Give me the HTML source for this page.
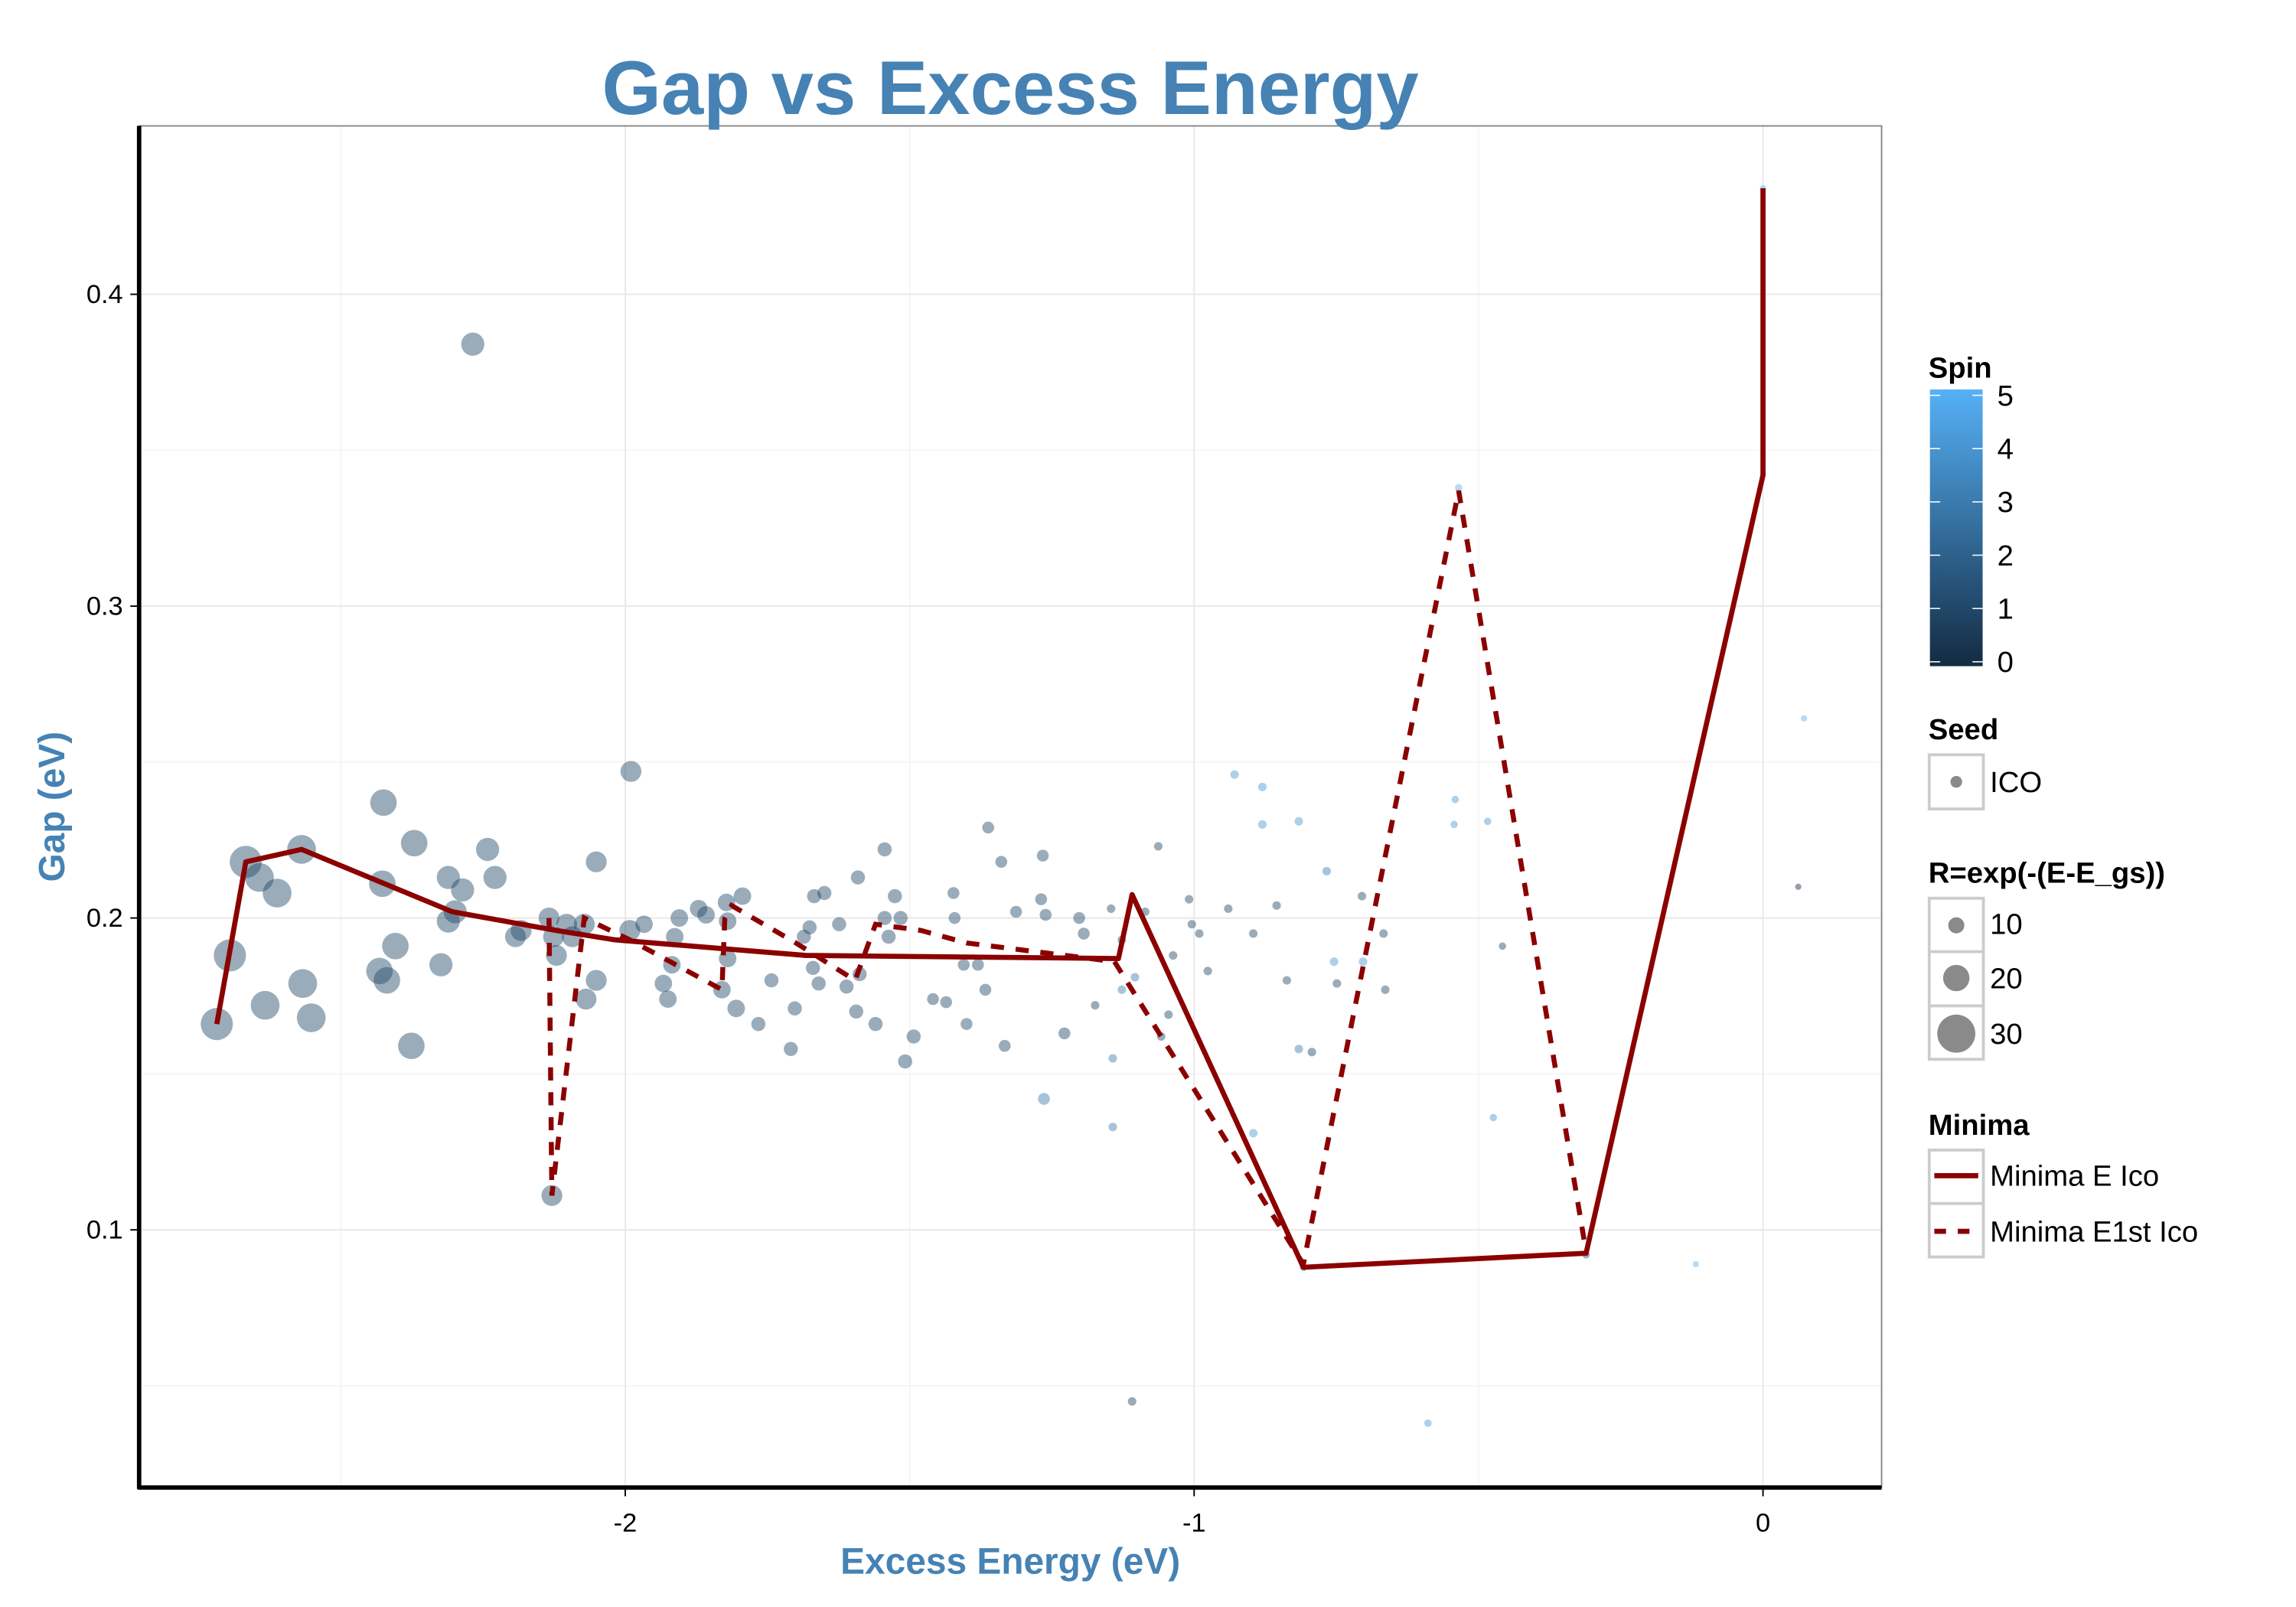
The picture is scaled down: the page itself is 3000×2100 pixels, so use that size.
<!DOCTYPE html>
<html><head><meta charset="utf-8"><style>
html,body{margin:0;padding:0;background:#fff}
svg{display:block}
text{font-family:"Liberation Sans",Arial,sans-serif}
</style></head><body>
<svg id="chart" width="3000" height="2100" viewBox="0 0 1568 1097.6" preserveAspectRatio="none" xmlns="http://www.w3.org/2000/svg">
<rect x="0" y="0" width="1568" height="1098" fill="#fff"/>
<g id="grid"></g>
<g id="marks"></g>
<rect x="95" y="86" width="1190" height="930" fill="none" stroke="#888" stroke-width="1"/>
<line x1="95" y1="86" x2="95" y2="1017" stroke="#000" stroke-width="3"/>
<line x1="94" y1="1016" x2="1285" y2="1016" stroke="#000" stroke-width="3"/>
<g id="ticks"></g>
<text x="690" y="78" text-anchor="middle" font-size="52" font-weight="bold" fill="#4682B4">Gap vs Excess Energy</text>
<text x="690" y="1075" text-anchor="middle" font-size="25" font-weight="bold" fill="#4682B4">Excess Energy (eV)</text>
<text transform="translate(44,551) rotate(-90)" text-anchor="middle" font-size="25" font-weight="bold" fill="#4682B4">Gap (eV)</text>
<defs><linearGradient id="spinGrad" x1="0" y1="1" x2="0" y2="0"><stop offset="0" stop-color="#132B43"/><stop offset="1" stop-color="#56B1F7"/></linearGradient></defs>
<g font-size="20">
<text x="1317" y="258" font-weight="bold">Spin</text>
<rect x="1318" y="266" width="36" height="189" fill="url(#spinGrad)"/>
<g id="cbticks"></g>
<text x="1317" y="505" font-weight="bold">Seed</text>
<rect x="1317.5" y="515.5" width="37" height="37" fill="#fff" stroke="#ccc" stroke-width="2"/>
<circle cx="1336" cy="534" r="4" fill="#8a8a8a"/>
<text x="1359" y="541">ICO</text>
<text x="1317" y="603" font-weight="bold">R=exp(-(E-E_gs))</text>
<rect x="1317.5" y="613.5" width="37" height="110" fill="#fff" stroke="#ccc" stroke-width="2"/>
<line x1="1318" y1="650" x2="1354" y2="650" stroke="#ccc" stroke-width="2"/>
<line x1="1318" y1="687" x2="1354" y2="687" stroke="#ccc" stroke-width="2"/>
<circle cx="1336" cy="632" r="5.5" fill="#8a8a8a"/>
<circle cx="1336" cy="668" r="9" fill="#8a8a8a"/>
<circle cx="1336" cy="706" r="13" fill="#8a8a8a"/>
<text x="1359" y="638">10</text><text x="1359" y="675">20</text><text x="1359" y="713">30</text>
<text x="1317" y="775" font-weight="bold">Minima</text>
<rect x="1317.5" y="785.5" width="37" height="73" fill="#fff" stroke="#ccc" stroke-width="2"/>
<line x1="1318" y1="822" x2="1354" y2="822" stroke="#ccc" stroke-width="2"/>
<line x1="1321" y1="803" x2="1351" y2="803" stroke="#8B0000" stroke-width="3.5"/>
<line x1="1321" y1="841" x2="1351" y2="841" stroke="#8B0000" stroke-width="3.5" stroke-dasharray="8,8"/>
<text x="1359" y="810">Minima E Ico</text>
<text x="1359" y="848">Minima E1st Ico</text>
</g>
</svg>
<script>
const ns="http://www.w3.org/2000/svg";
const xTicks=[-2,-1,0];
const yTicks=[0.1,0.2,0.3,0.4];
const xMinor=[-2.5,-1.5,-0.5];
const yMinor=[0.05,0.15,0.25,0.35];
const spinTicks=[0,1,2,3,4,5];
const ptE=[-2.718,-2.695,-2.667,-2.643,-2.633,-2.612,-2.569,-2.567,-2.552,-2.425,-2.427,-2.432,-2.419,-2.404,-2.371,-2.376,-2.324,-2.311,-2.311,-2.299,-2.286,-2.268,-2.242,-2.229,-2.193,-2.183,-2.134,-2.129,-2.121,-2.126,-2.103,-2.093,-2.072,-2.069,-2.051,-2.051,-1.990,-1.992,-1.967,-1.933,-1.925,-1.918,-1.913,-1.905,-1.871,-1.858,-1.830,-1.822,-1.820,-1.820,-1.805,-1.794,-1.766,-1.743,-1.709,-1.702,-1.686,-1.676,-1.670,-1.668,-1.660,-1.650,-1.624,-1.611,-1.594,-1.591,-1.588,-1.560,-1.544,-1.544,-1.537,-1.526,-1.516,-1.508,-1.493,-1.459,-1.436,-1.423,-1.421,-1.405,-1.400,-1.380,-1.367,-1.362,-1.339,-1.333,-1.313,-1.269,-1.266,-1.264,-1.261,-1.228,-1.202,-1.194,-1.174,-1.146,-1.143,-1.143,-1.127,-1.127,-1.109,-1.104,-1.086,-1.063,-1.058,-1.045,-1.037,-1.009,-1.004,-0.991,-0.976,-0.940,-0.929,-0.896,-0.896,-0.880,-0.880,-0.855,-0.837,-0.816,-0.816,-0.793,-0.767,-0.754,-0.749,-0.705,-0.703,-0.667,-0.664,-0.589,-0.541,-0.543,-0.535,-0.484,-0.474,-0.458,-0.118,0.062,0.072,0,0,-0.808,-0.311];
const ptGap=[0.166,0.188,0.218,0.213,0.172,0.208,0.222,0.179,0.168,0.237,0.211,0.183,0.180,0.191,0.224,0.159,0.185,0.213,0.199,0.202,0.209,0.384,0.222,0.213,0.194,0.196,0.200,0.111,0.188,0.194,0.198,0.194,0.198,0.174,0.218,0.180,0.247,0.196,0.198,0.179,0.174,0.185,0.194,0.200,0.203,0.201,0.177,0.205,0.199,0.187,0.171,0.207,0.166,0.180,0.158,0.171,0.194,0.197,0.184,0.207,0.179,0.208,0.198,0.178,0.170,0.213,0.182,0.166,0.222,0.200,0.194,0.207,0.200,0.154,0.162,0.174,0.173,0.208,0.200,0.185,0.166,0.185,0.177,0.229,0.218,0.159,0.202,0.206,0.220,0.142,0.201,0.163,0.200,0.195,0.172,0.203,0.155,0.133,0.193,0.177,0.045,0.181,0.202,0.223,0.162,0.169,0.188,0.206,0.198,0.195,0.183,0.203,0.246,0.195,0.131,0.242,0.230,0.204,0.180,0.158,0.231,0.157,0.215,0.186,0.179,0.207,0.186,0.195,0.177,0.038,0.238,0.230,0.338,0.231,0.136,0.191,0.089,0.210,0.264,0.342,0.434,0.088,0.092];
const ptR=[24,24,24,21,21,21,21,21,21,19,19,19,19,19,19,19,16,16,16,16,16,16,16,16,14,14,14,14,14,14,14,14,14,14,14,14,14,14,11,11,11,11,11,11,11,11,11,11,11,11,11,11,8,8,8,8,8,8,8,8,8,8,8,8,8,8,8,8,8,8,8,8,8,8,8,6,6,6,6,6,6,6,6,6,6,6,6,6,6,6,6,6,6,6,3,3,3,3,3,3,3,3,3,3,3,3,3,3,3,3,3,3,3,3,3,3,3,3,3,3,3,3,3,3,3,3,3,3,3,2,2,2,2,2,2,2,1,1,1,1,1,2,2];
const ptSpin=[1,1,1,1,1,1,1,1,1,1,1,1,1,1,1,1,1,1,1,1,1,1,1,1,1,1,1,1,1,1,1,1,1,1,1,1,1,1,1,1,1,1,1,1,1,1,1,1,1,1,1,1,1,1,1,1,1,1,1,1,1,1,1,1,1,1,1,1,1,1,1,1,1,1,1,1,1,1,1,1,1,1,1,1,1,1,1,1,1,3,1,1,1,1,1,1,3,3,1,3,1,3,1,1,1,1,1,1,1,1,1,1,4,1,4,4,4,1,1,3,4,1,3,4,1,1,4,1,1,4,4,4,5,4,4,1,5,0,5,5,5,3,1];
const solidE=[-2.718,-2.667,-2.569,-2.304,-2.121,-2.018,-1.683,-1.133,-1.109,-0.808,-0.311,0,0];
const solidGap=[0.166,0.218,0.222,0.202,0.196,0.193,0.188,0.187,0.2075,0.088,0.0925,0.342,0.434];
const dashE=[-2.134,-2.129,-2.072,-1.992,-1.830,-1.825,-1.813,-1.700,-1.596,-1.560,-1.480,-1.400,-1.140,-0.808,-0.535,-0.311];
const dashGap=[0.200,0.111,0.200,0.193,0.177,0.200,0.204,0.192,0.180,0.198,0.196,0.192,0.186,0.089,0.337,0.093];

function X(v){return 1204+388.5*v;}
function Y(v){return 840-(v-0.1)*2130;}
function spinColor(s){const t=s/5;const a=[0x13,0x2B,0x43],b=[0x56,0xB1,0xF7];return 'rgb('+a.map((c,i)=>Math.round(c+(b[i]-c)*t)).join(',')+')';}
function rad(R){return 1.75+0.385*R;}
function mk(tag,attrs,parent){const e=document.createElementNS(ns,tag);for(const k in attrs)e.setAttribute(k,attrs[k]);parent.appendChild(e);return e;}

const grid=document.getElementById('grid');
xMinor.forEach(v=>{const l=mk('line',{x1:X(v),x2:X(v),y1:86,y2:1016,stroke:'#f5f5f5','stroke-width':1},grid);

});
yMinor.forEach(v=>{const l=mk('line',{x1:95,x2:1285,y1:Y(v),y2:Y(v),stroke:'#f5f5f5','stroke-width':1},grid);

});
xTicks.forEach(v=>{const l=mk('line',{x1:X(v),x2:X(v),y1:86,y2:1016,stroke:'#e8e8e8','stroke-width':1},grid);

});
yTicks.forEach(v=>{const l=mk('line',{x1:95,x2:1285,y1:Y(v),y2:Y(v),stroke:'#e8e8e8','stroke-width':1},grid);

});

const ticks=document.getElementById('ticks');
xTicks.forEach(v=>{mk('line',{x1:X(v),x2:X(v),y1:1016,y2:1022,stroke:'#000','stroke-width':1},ticks);
const t=mk('text',{x:X(v),y:1046,'text-anchor':'middle','font-size':18,fill:'#000'},ticks);t.textContent=String(v);

});
yTicks.forEach(v=>{mk('line',{x1:89,x2:95,y1:Y(v),y2:Y(v),stroke:'#000','stroke-width':1},ticks);
const t=mk('text',{x:84,y:Y(v)+6,'text-anchor':'end','font-size':18,fill:'#000'},ticks);t.textContent=v.toFixed(1);

});

const cb=document.getElementById('cbticks');
spinTicks.forEach(s=>{const y=452-s*(452-270)/5;
mk('line',{x1:1318,x2:1325,y1:y,y2:y,stroke:'#fff','stroke-width':0.8},cb);
mk('line',{x1:1347,x2:1354,y1:y,y2:y,stroke:'#fff','stroke-width':0.8},cb);
const t=mk('text',{x:1364,y:y+7,'font-size':20},cb);t.textContent=String(s);

});

const marks=document.getElementById('marks');
ptE.forEach((e,i)=>{const c=mk('circle',{cx:X(e),cy:Y(ptGap[i]),r:rad(ptR[i]),fill:spinColor(ptSpin[i]),'fill-opacity':0.45},marks);

});
const sp=mk('polyline',{points:solidE.map((e,i)=>X(e)+','+Y(solidGap[i])).join(' '),fill:'none',stroke:'#8B0000','stroke-width':3.5,'stroke-linejoin':'round'},marks);


const dp=mk('polyline',{points:dashE.map((e,i)=>X(e)+','+Y(dashGap[i])).join(' '),fill:'none',stroke:'#8B0000','stroke-width':3.4,'stroke-dasharray':'9,8'},marks);


</script>
</body></html>
